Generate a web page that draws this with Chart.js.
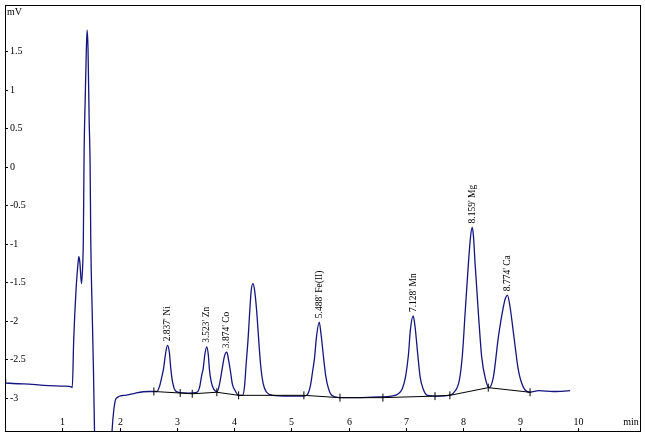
<!DOCTYPE html>
<html>
<head>
<meta charset="utf-8">
<script src="https://cdn.jsdelivr.net/npm/chart.js@4.4.1/dist/chart.umd.min.js"></script>
<style>
    html, body { margin: 0; padding: 0; background: #fff; }
    #wrap { width: 645px; height: 436px; position: relative; }
</style>
</head>
<body>
<div id="wrap"><canvas id="chromatogram"></canvas></div>
<script>
// retention time (min) and detector signal (mV)
const retentionTimes = [
    0.00, 0.015, 0.33, 0.68, 1.03, 1.16, 1.175, 1.20, 1.24, 1.28,
    1.29, 1.307, 1.336, 1.36, 1.368, 1.382, 1.40, 1.42, 1.434, 1.45,
    1.469, 1.486, 1.499, 1.521, 1.546, 1.563, 1.59, 1.84, 1.87, 1.90,
    1.94, 2.10, 2.28, 2.51, 2.60,
    2.65, 2.70, 2.745, 2.77, 2.80, 2.837, 2.87, 2.895, 2.92, 2.96, 3.03, 3.20,
    3.35, 3.40, 3.435, 3.46, 3.49, 3.523, 3.55, 3.57, 3.60, 3.645, 3.70,
    3.725, 3.76, 3.79, 3.83, 3.874, 3.90, 3.94, 3.97, 4.02, 4.08,
    4.15, 4.185, 4.21, 4.245, 4.275, 4.30, 4.33, 4.36, 4.395, 4.43, 4.465, 4.51, 4.57, 4.675, 4.95, 5.21,
    5.28, 5.335, 5.37, 5.405, 5.44, 5.488, 5.52, 5.565, 5.60, 5.645, 5.705, 5.83, 6.175, 6.52, 6.75,
    6.87, 6.94, 6.995, 7.045, 7.08, 7.128, 7.16, 7.21, 7.25, 7.30, 7.38, 7.57,
    7.745, 7.83, 7.936, 7.99, 8.035, 8.093, 8.128, 8.159, 8.18, 8.21, 8.268, 8.325, 8.395, 8.455,
    8.53, 8.617, 8.704, 8.74, 8.774, 8.82, 8.895, 8.965, 9.05, 9.17, 9.32, 9.575, 9.87
];
const signal = [
    -2.62, -2.81, -2.82, -2.84, -2.85, -2.86, -2.87, -2.25, -1.61, -1.22,
    -1.17, -1.24, -1.52, -1.22, -0.96, 0.21, 0.85, 1.50, 1.77, 1.53,
    0.63, 0.05, -1.02, -1.83, -2.68, -3.43, -4.0, -4.0, -3.43, -3.16,
    -3.01, -2.97, -2.94, -2.92, -2.92,
    -2.92, -2.85, -2.71, -2.62, -2.45, -2.32, -2.41, -2.62, -2.77, -2.89, -2.93, -2.94,
    -2.93, -2.86, -2.71, -2.63, -2.44, -2.34, -2.44, -2.63, -2.79, -2.89, -2.92,
    -2.89, -2.77, -2.64, -2.47, -2.41, -2.49, -2.67, -2.82, -2.91, -2.97,
    -2.97, -2.84, -2.58, -2.24, -1.87, -1.61, -1.52, -1.61, -1.87, -2.24, -2.58, -2.82, -2.93, -2.97, -2.98, -2.98,
    -2.96, -2.84, -2.67, -2.49, -2.21, -2.02, -2.18, -2.49, -2.71, -2.87, -2.97, -3.00, -3.00, -2.99, -2.98,
    -2.95, -2.88, -2.73, -2.45, -2.12, -1.94, -2.07, -2.45, -2.73, -2.88, -2.97, -2.98,
    -2.97, -2.94, -2.77, -2.43, -1.91, -1.26, -0.93, -0.79, -0.89, -1.26, -1.91, -2.47, -2.77, -2.87,
    -2.73, -2.21, -1.82, -1.71, -1.67, -1.82, -2.25, -2.64, -2.86, -2.93, -2.91, -2.92, -2.91
];

// integration baseline with its start/end marks
const baselineTimes = [2.60, 3.06, 3.27, 3.70, 4.08, 5.22, 5.85, 6.60, 7.51, 7.77, 8.44, 9.17];
const baselineValues = [-2.92, -2.94, -2.95, -2.93, -2.97, -2.97, -3.00, -3.00, -2.98, -2.97, -2.87, -2.93];

// identified peaks
const peakNames = ['Ni', 'Zn', 'Co', 'Fe(II)', 'Mn', 'Mg', 'Ca'];
const peakTimes = [2.837, 3.523, 3.874, 5.488, 7.128, 8.159, 8.774];
const peakHeights = [-2.32, -2.34, -2.41, -2.02, -1.94, -0.79, -1.67];

const xTicks = [1, 2, 3, 4, 5, 6, 7, 8, 9, 10];
const yTicks = [-3, -2.5, -2, -1.5, -1, -0.5, 0, 0.5, 1, 1.5];

const FONT = '"Liberation Serif", "Times New Roman", serif';

const tracePoints = retentionTimes.map((t, i) => ({ x: t, y: signal[i] }));
const basePoints = baselineTimes.map((t, i) => ({ x: t, y: baselineValues[i] }));

const frameAndLabels = {
    id: 'frameAndLabels',
    afterDatasetsDraw(chart) {
        const { ctx, chartArea, scales } = chart;
        const xs = scales.x, ys = scales.y;
        ctx.save();
        ctx.strokeStyle = '#000';
        ctx.lineWidth = 1;
        ctx.strokeRect(chartArea.left + 0.5, chartArea.top + 0.5,
            chartArea.right - chartArea.left, chartArea.bottom - chartArea.top);

        ctx.fillStyle = '#000';
        ctx.font = '10px ' + FONT;

        // y axis ticks inside the frame
        ctx.textAlign = 'left';
        ctx.textBaseline = 'middle';
        yTicks.forEach(v => {
            const y = Math.round(ys.getPixelForValue(v)) + 0.5;
            ctx.beginPath();
            ctx.moveTo(chartArea.left, y);
            ctx.lineTo(chartArea.left + 3, y);
            ctx.stroke();
            ctx.fillText(String(v), chartArea.left + 5, y);
        });
        ctx.fillText('mV', chartArea.left + 2, chartArea.top + 7);

        // x axis ticks inside the frame
        ctx.textAlign = 'center';
        xTicks.forEach(v => {
            const x = Math.round(xs.getPixelForValue(v)) + 0.5;
            ctx.beginPath();
            ctx.moveTo(x, chartArea.bottom);
            ctx.lineTo(x, chartArea.bottom - 3);
            ctx.stroke();
            ctx.fillText(String(v), x, chartArea.bottom - 9);
        });
        ctx.fillText('min', chartArea.right - 9, chartArea.bottom - 9);

        // peak annotations, rotated
        ctx.font = '9.5px ' + FONT;
        ctx.textAlign = 'left';
        peakNames.forEach((name, i) => {
            const x = xs.getPixelForValue(peakTimes[i]);
            const y = ys.getPixelForValue(peakHeights[i]);
            ctx.save();
            ctx.translate(x, y - 4);
            ctx.rotate(-Math.PI / 2);
            ctx.fillText(peakTimes[i].toFixed(3) + "' " + name, 0, 0);
            ctx.restore();
        });
        ctx.restore();
    }
};

new Chart(document.getElementById('chromatogram'), {
    type: 'scatter',
    data: {
        datasets: [
            {
                label: 'signal',
                data: tracePoints,
                showLine: true,
                borderColor: '#15157f',
                borderWidth: 1.3,
                pointRadius: 0,
                cubicInterpolationMode: 'monotone',
                order: 1
            },
            {
                label: 'baseline',
                data: basePoints,
                showLine: true,
                borderColor: '#000',
                borderWidth: 1,
                pointStyle: 'line',
                rotation: 90,
                pointRadius: 4,
                pointBorderColor: '#000',
                pointBorderWidth: 1,
                order: 0
            }
        ]
    },
    options: {
        responsive: true,
        maintainAspectRatio: false,
        animation: false,
        layout: { padding: { left: 5, top: 4, right: 4, bottom: 5 } },
        scales: {
            x: { type: 'linear', display: false, min: 0, max: 11.09 },
            y: { type: 'linear', display: false, min: -3.433, max: 2.098 }
        },
        plugins: {
            legend: { display: false },
            tooltip: { enabled: false }
        }
    },
    plugins: [frameAndLabels]
});
</script>
</body>
</html>
